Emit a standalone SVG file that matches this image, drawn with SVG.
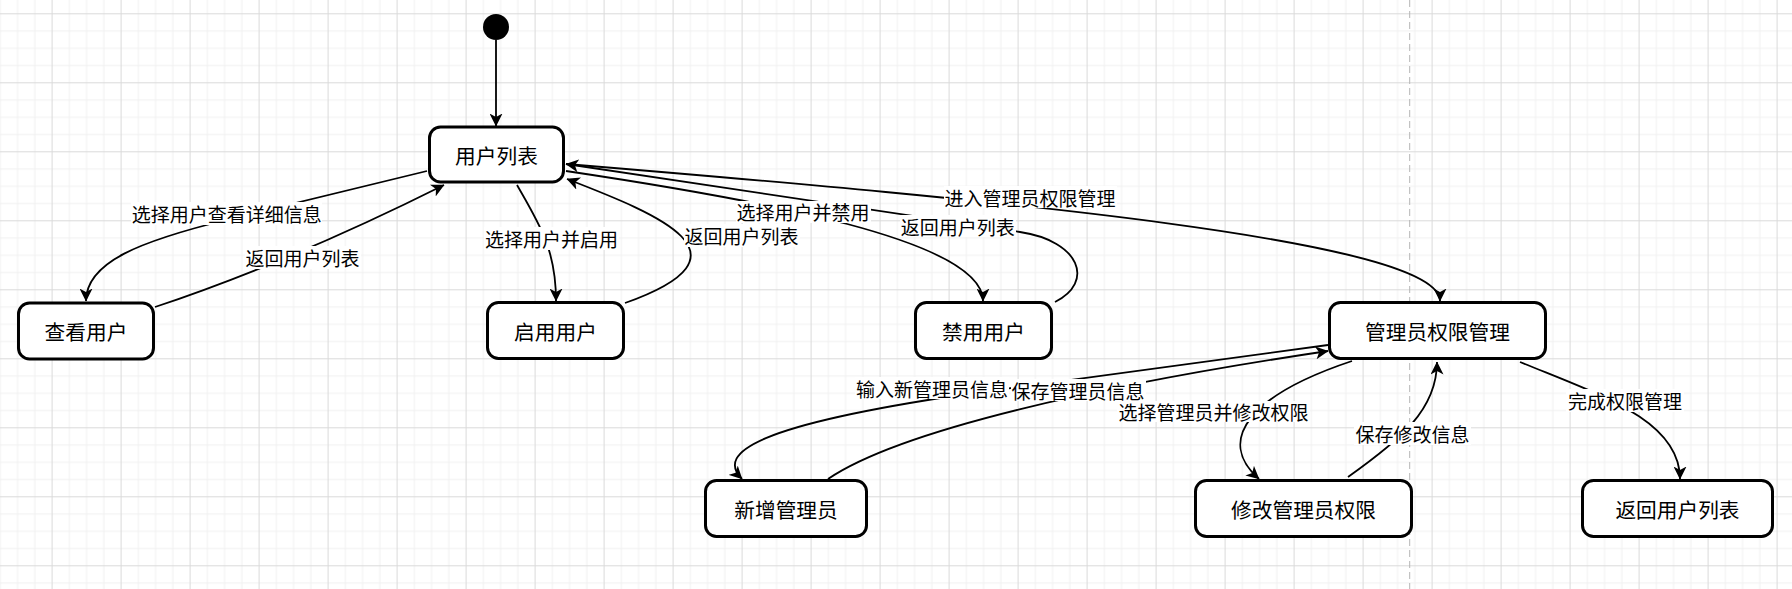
<svg xmlns="http://www.w3.org/2000/svg" width="1792" height="589" viewBox="0 0 1792 589">
<defs>
<pattern id="grid" x="51.6" y="13.3" width="69" height="69" patternUnits="userSpaceOnUse">
<rect x="0" y="0" width="69" height="69" fill="#ffffff"/>
<g fill="#f1f1f1">
<rect x="17.25" y="0" width="1" height="69"/><rect x="34.5" y="0" width="1" height="69"/><rect x="51.75" y="0" width="1" height="69"/>
<rect x="0" y="17.25" width="69" height="1"/><rect x="0" y="34.5" width="69" height="1"/><rect x="0" y="51.75" width="69" height="1"/>
</g>
<g fill="#dadada">
<rect x="0" y="0" width="1" height="69"/><rect x="0" y="0" width="69" height="1"/>
</g>
</pattern>
<marker id="arr" markerUnits="userSpaceOnUse" viewBox="0 0 13 13" refX="12.5" refY="6.5" markerWidth="13" markerHeight="13" orient="auto">
<path d="M0,0 L13,6.5 L0,13 L3.5,6.5 Z" fill="#000"/>
</marker>
<style>
.node rect{fill:#fff;stroke:#000;stroke-width:3}
.node text{font-family:"Noto Sans CJK SC",sans-serif;font-size:20.7px;fill:#000;text-anchor:middle;dominant-baseline:central}
.edge{fill:none;stroke:#000;stroke-width:1.8;marker-end:url(#arr)}
.lbl rect{fill:#fff}
.lbl text{font-family:"Noto Sans CJK SC",sans-serif;font-size:19px;fill:#000;text-anchor:middle;dominant-baseline:central}
</style>
</defs>
<rect x="0" y="0" width="1792" height="589" fill="url(#grid)"/>
<line x1="1409.7" y1="0" x2="1409.7" y2="589" stroke="#b5b5b5" stroke-width="1" stroke-dasharray="7 4"/>

<g id="connectors">
<path class="edge" d="M496,40 L496,126"/>
<path class="edge" d="M427,171 L230,219 C140,241 86,262 86,301"/>
<path class="edge" d="M155,307 Q290,262 444,185"/>
<path class="edge" d="M517,185 C540,225 556,250 556,301"/>
<path class="edge" d="M625,303 C760,255 660,215 567,179"/>
<path class="edge" d="M566,171 C760,200 983,240 983,301"/>
<path class="edge" d="M1055,302 C1095,282 1080,241 1020,232 L566,164"/>
<path class="edge" d="M566,164 C1000,200 1440,240 1440,301"/>
<path class="edge" d="M1328,345 L960,395 C760,425 715,452 742,479"/>
<path class="edge" d="M828,479 C900,430 1100,385 1328,351"/>
<path class="edge" d="M1352,361 C1250,395 1215,440 1259,479"/>
<path class="edge" d="M1348,477 C1400,440 1437,410 1437,362"/>
<path class="edge" d="M1520,362 C1600,395 1680,420 1680,479"/>
</g>

<g id="labels">
<g class="lbl"><rect x="131" y="202" width="191" height="23"/><text x="226.7" y="213">选择用户查看详细信息</text></g>
<g class="lbl"><rect x="245" y="246" width="116" height="23"/><text x="302.6" y="257">返回用户列表</text></g>
<g class="lbl"><rect x="484" y="227" width="135" height="23"/><text x="551.6" y="238">选择用户并启用</text></g>
<g class="lbl"><rect x="684" y="224" width="116" height="23"/><text x="741.5" y="235">返回用户列表</text></g>
<g class="lbl"><rect x="736" y="201" width="135" height="22"/><text x="803" y="211.7">选择用户并禁用</text></g>
<g class="lbl"><rect x="900" y="215" width="116" height="22"/><text x="957.7" y="226">返回用户列表</text></g>
<g class="lbl"><rect x="944" y="186" width="173" height="22"/><text x="1030" y="197">进入管理员权限管理</text></g>
<g class="lbl"><rect x="855" y="377" width="154" height="22"/><text x="932" y="388">输入新管理员信息</text></g>
<g class="lbl"><rect x="1011" y="379" width="135" height="22"/><text x="1078" y="390">保存管理员信息</text></g>
<g class="lbl"><rect x="1117" y="401" width="193" height="21"/><text x="1213.6" y="411.3">选择管理员并修改权限</text></g>
<g class="lbl"><rect x="1354" y="422" width="117" height="23"/><text x="1412.5" y="433.3">保存修改信息</text></g>
<g class="lbl"><rect x="1566" y="389" width="118" height="23"/><text x="1625" y="400.7">完成权限管理</text></g>
</g>

<g id="start"><circle cx="496" cy="27" r="13" fill="#000"/></g>
<g id="n_userlist" class="node"><rect x="429.5" y="127" width="134" height="55" rx="11"/><text x="496.5" y="155">用户列表</text></g>
<g id="n_view" class="node"><rect x="18.5" y="303" width="135" height="56" rx="11"/><text x="86" y="331">查看用户</text></g>
<g id="n_enable" class="node"><rect x="487.5" y="302.5" width="136" height="56" rx="11"/><text x="555.5" y="330.5">启用用户</text></g>
<g id="n_disable" class="node"><rect x="915.5" y="302.5" width="136" height="56" rx="11"/><text x="983.5" y="330.5">禁用用户</text></g>
<g id="n_admin" class="node"><rect x="1329.5" y="302.5" width="216" height="56" rx="11"/><text x="1437.5" y="330.5">管理员权限管理</text></g>
<g id="n_add" class="node"><rect x="705.5" y="480.5" width="161" height="56" rx="11"/><text x="786" y="508.5">新增管理员</text></g>
<g id="n_modify" class="node"><rect x="1195.5" y="480.5" width="216" height="56" rx="11"/><text x="1303.5" y="508.5">修改管理员权限</text></g>
<g id="n_back" class="node"><rect x="1582.5" y="480.5" width="190" height="56" rx="11"/><text x="1677.5" y="508.5">返回用户列表</text></g>
</svg>
